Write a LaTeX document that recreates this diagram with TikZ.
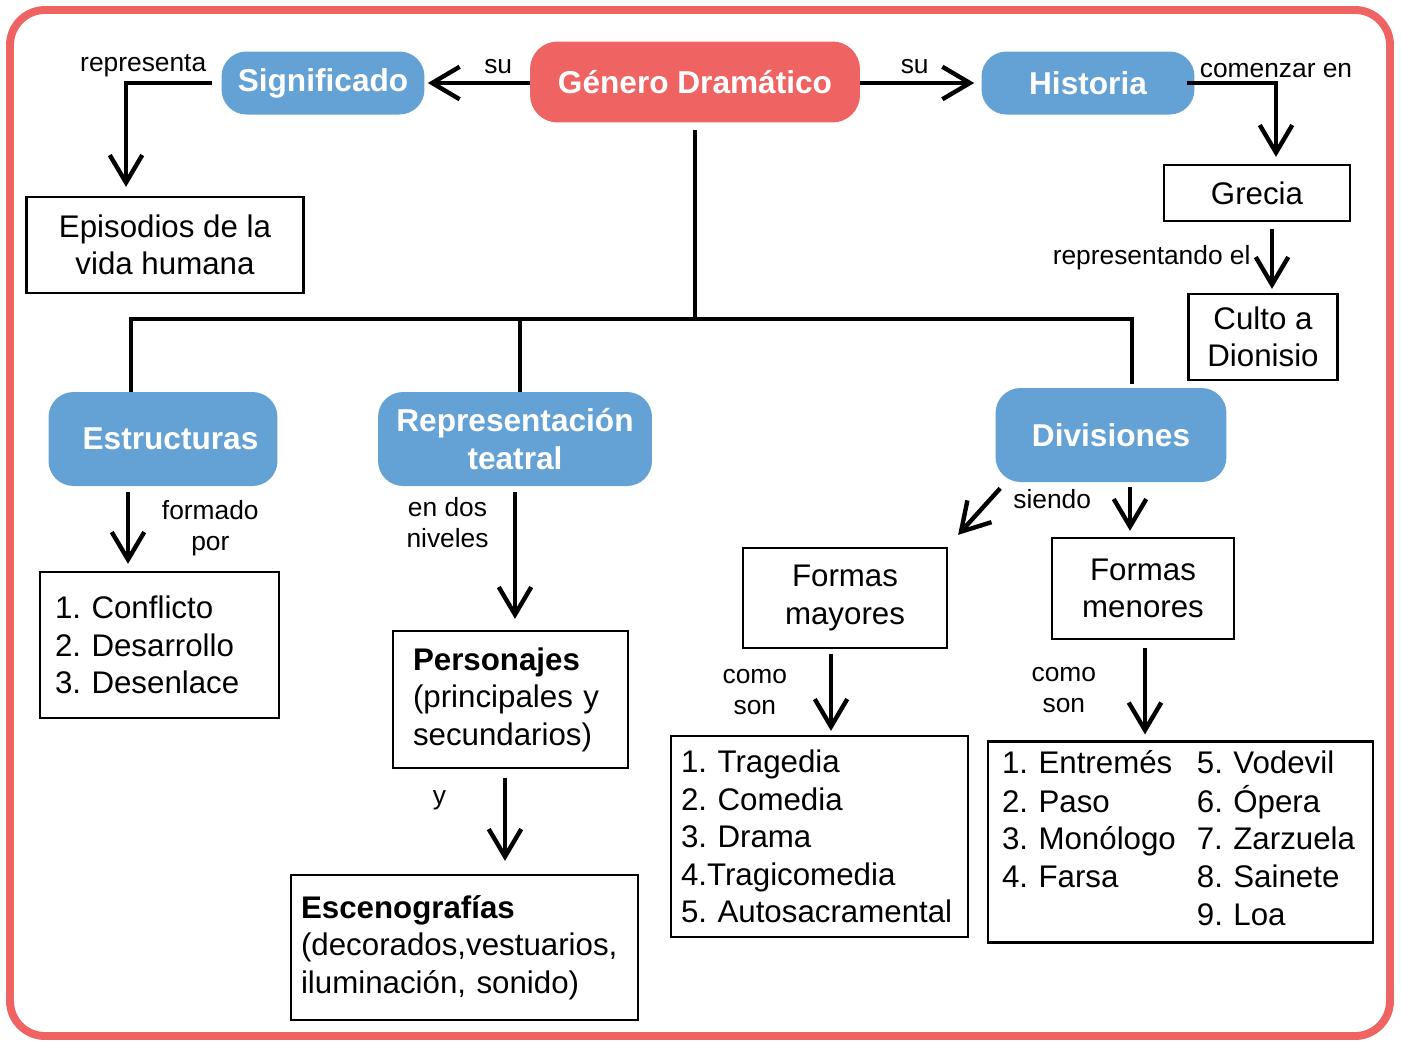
\documentclass[tikz,border=0pt]{standalone}
\usepackage{fontspec}
\setmainfont{Liberation Sans}
\frenchspacing
\usetikzlibrary{arrows.meta, positioning}
\definecolor{generored}{HTML}{F06363}
\definecolor{topicblue}{HTML}{64A1D5}

\begin{document}
\begin{tikzpicture}[x=0.02cm, y=-0.02cm,   % pixel grid of the sketch
    mainbox/.style={
        rectangle,
        rounded corners=0.55cm,
        fill=generored,
        text=white,
        align=center,
        font=\bfseries\fontsize{18}{21.6}\selectfont
    },
    topicbox/.style={
        rectangle,
        rounded corners=0.5cm,
        fill=topicblue,
        text=white,
        align=center,
        font=\bfseries\fontsize{18}{21.6}\selectfont
    },
    infobox/.style={
        draw=black,
        line width=1.3pt,
        font=\fontsize{17.8}{21.4}\selectfont
    },
    linklabel/.style={font=\fontsize{15}{17.6}\selectfont, align=center, inner sep=1pt},
    link/.style={line width=2.5pt, -{Straight Barb[length=5.5mm, width=6.5mm]}},
    trunk/.style={line width=2.5pt}
]
    \useasboundingbox (0,0) rectangle (1402,1042);

    % The frame
    \draw [generored, line width=4.5pt, rounded corners=0.7cm] (10,10) rectangle (1390,1036);

    % 1. Genero Dramatico and its two sides
    \node [mainbox, minimum width=6.6cm, minimum height=1.62cm] (genero) at (695,82) {Género Dramático};
    \node [topicbox, minimum width=4.06cm, minimum height=1.26cm] (signif) at (323,83) {Significado};
    \node [topicbox, minimum width=4.26cm, minimum height=1.26cm] (historia) at (1088,83) {Historia};

    \node [infobox, minimum width=5.54cm, minimum height=1.92cm, align=center] (episodios) at (165,245) {Episodios de la\\vida humana};
    \node [infobox, minimum width=3.72cm, minimum height=1.12cm] (grecia) at (1257,193) {Grecia};
    \node [infobox, minimum width=2.98cm, minimum height=1.72cm, align=center] (culto) at (1263,337) {Culto a\\Dionisio};

    % 2. The three branches
    \node [topicbox, minimum width=4.58cm, minimum height=1.88cm] (estruct) at (163,439) {\hspace{0.3cm}Estructuras};
    \node [topicbox, minimum width=5.48cm, minimum height=1.88cm] (repr) at (515,439) {Representación\\teatral};
    \node [topicbox, minimum width=4.62cm, minimum height=1.88cm] (divis) at (1111,435) {Divisiones};

    % 3. What each branch holds
    \node [infobox, text width=4.18cm, inner xsep=0.3cm, minimum height=2.92cm, align=left] (estlista) at (159.5,645) {
        1. Conflicto\\
        2. Desarrollo\\
        3. Desenlace
    };
    \node [infobox, text width=3.9cm, inner xsep=0.4cm, minimum height=2.74cm, align=left] (personajes) at (510.5,699.5) {
        \textbf{Personajes}\\
        (principales y\\
        secundarios)
    };
    \node [infobox, text width=6.54cm, inner xsep=0.2cm, minimum height=2.9cm, align=left] (esceno) at (464.5,947.5) {
        \textbf{Escenografías}\\
        (decorados,vestuarios,\\
        iluminación, sonido)
    };
    \node [infobox, minimum width=4.08cm, minimum height=2cm, align=center] (mayores) at (845,598) {Formas\\mayores};
    \node [infobox, minimum width=3.64cm, minimum height=2.02cm, align=center] (menores) at (1143,588.5) {Formas\\menores};
    \node [infobox, text width=5.54cm, inner xsep=0.2cm, minimum height=4.02cm, align=left] (tragedia) at (819.5,836.5) {
        1. Tragedia\\
        2. Comedia\\
        3. Drama\\
        4.Tragicomedia\\
        5. Autosacramental
    };
    \node [infobox, text width=7.14cm, inner xsep=0.28cm, minimum height=4.02cm, align=left] (entremes) at (1180.5,842) {
        \begin{tabular}{@{}l@{\hspace{0.42cm}}l@{}}
        1. Entremés & 5. Vodevil\\
        2. Paso & 6. Ópera\\
        3. Monólogo & 7. Zarzuela\\
        4. Farsa & 8. Sainete\\
         & 9. Loa
        \end{tabular}
    };

    % The connections
    \draw [link, shorten >=0.06cm] (genero.west |- signif.east) -- (signif.east)
        node[linklabel, pos=0.3, above=3pt] {su};
    \draw [link, shorten >=0.14cm] (genero.east |- historia.west) -- (historia.west)
        node[linklabel, pos=0.45, above=3pt] {su};
    \draw [link, shorten >=0.18cm] ([xshift=-0.18cm]signif.west) -| ([xshift=-0.78cm]episodios.north)
        node[linklabel, pos=0.4, above=1pt] {representa};
    \draw [link, shorten >=0.14cm] ([xshift=-0.16cm]historia.east) -| ([xshift=0.38cm]grecia.north)
        node[linklabel, pos=0.5, above=1pt] {comenzar en};
    \draw [link, shorten <=0.14cm, shorten >=0.08cm] ([xshift=0.3cm]grecia.south) -- ([xshift=0.3cm]grecia.south |- culto.north)
        node[linklabel, midway, left=0.35cm] {representando el};

    % The tree under Genero Dramatico
    \coordinate (bar) at (0,319);
    \draw [trunk] ([yshift=-0.14cm]genero.south) -- (genero.south |- bar);
    \draw [trunk] ([xshift=-0.64cm]estruct.north) |- ([xshift=0.42cm]divis.north |- bar) -- ([xshift=0.42cm, yshift=0.08cm]divis.north);
    \draw [trunk] ([xshift=0.1cm]repr.north) -- ([xshift=0.1cm]repr.north |- bar);

    \draw [link, shorten <=0.12cm, shorten >=0.14cm] ([xshift=-0.7cm]estruct.south) -- ([xshift=-0.7cm]estruct.south |- estlista.north)
        node[linklabel, midway, right=0.6cm] {formado\\por};
    \draw [link, shorten <=0.12cm, shorten >=0.22cm] (repr.south) -- (repr.south |- personajes.north)
        node[linklabel, pos=0.25, left=0.45cm] {en dos\\niveles};
    \draw [link, shorten <=0.18cm, shorten >=0.26cm] ([xshift=-0.11cm]personajes.south) -- ([xshift=-0.11cm]personajes.south |- esceno.north)
        node[linklabel, pos=0.3, left=1.1cm] {y};
    \draw [link] ([xshift=0.1cm, yshift=-0.12cm]divis.south west) -- ([xshift=0.2cm, yshift=0.24cm]mayores.north east);
    \draw [link, shorten <=0.1cm, shorten >=0.12cm] ([xshift=0.38cm]divis.south) -- ([xshift=0.38cm]divis.south |- menores.north)
        node[linklabel, pos=0.3, left=0.7cm] {siendo};
    \draw [link, shorten <=0.1cm, shorten >=0.08cm] ([xshift=-0.28cm]mayores.south) -- ([xshift=-0.28cm]mayores.south |- tragedia.north)
        node[linklabel, midway, left=0.8cm] {como\\son};
    \draw [link, shorten <=0.16cm, shorten >=0.12cm] ([xshift=0.04cm]menores.south) -- ([xshift=0.04cm]menores.south |- entremes.north)
        node[linklabel, midway, left=0.9cm] {como\\son};

\end{tikzpicture}
\end{document}
